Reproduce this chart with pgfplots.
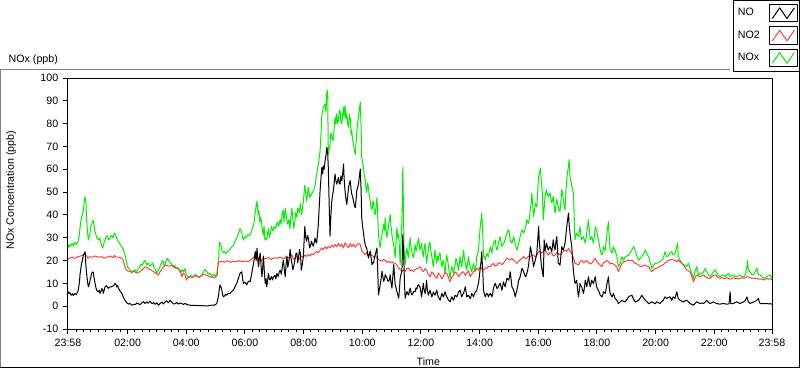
\documentclass[border=0pt]{standalone}
\usepackage{fontspec}
\setmainfont{Liberation Sans}
\usepackage{pgfplots}
\pgfplotsset{compat=1.18}
\definecolor{noxgreen}{RGB}{0,240,0}
\definecolor{notwored}{RGB}{255,64,64}
\definecolor{framegray}{RGB}{128,128,128}
\begin{document}
\begin{tikzpicture}[font=\fontsize{8}{9.6}\selectfont]
\path[use as bounding box] (-51pt,-30pt) rectangle (549pt,246.75pt);
\draw[framegray, line width=0.75pt] (-50.6pt,-28.9pt) -- (-50.6pt,195pt) -- (496.5pt,195pt);
\draw[black, line width=0.75pt] (-51pt,-28.9pt) -- (548.6pt,-28.9pt) -- (548.6pt,192.75pt);
\begin{axis}[
  scale only axis, width=528pt, height=188.25pt,
  xmin=-0.0333, xmax=23.9667, ymin=-10, ymax=100,
  axis line style={black, line width=0.75pt},
  tick align=outside, tick pos=left,
  major tick length=3.75pt, minor tick length=2.25pt,
  every tick/.append style={black, line width=0.75pt},
  xtick={-0.0333,2,4,6,8,10,12,14,16,18,20,22,23.9667},
  xticklabels={23:58,02:00,04:00,06:00,08:00,10:00,12:00,14:00,16:00,18:00,20:00,22:00,23:58},
  minor xtick={0.25,0.5,...,23.75},
  ytick={-10,0,...,100},
  /pgf/number format/assume math mode=true,
  ticklabel style={font=\fontsize{8}{9.6}\selectfont},
  line join=round,
  legend plot pos=right,
  reverse legend,
  legend style={at={(1.0398,1.3125)}, anchor=north east, draw=black, line width=0.75pt, fill=white,
    inner xsep=1.5pt, inner ysep=3pt, row sep=3pt, column sep=4pt,
    font=\fontsize{8}{9.6}\selectfont, cells={anchor=west},
    nodes={text width=17pt, align=left}},
  legend image code/.code={
    \draw[black,line width=0.75pt,fill=white] (0pt,-6.5pt) rectangle (21pt,6.5pt);
    \draw[#1,line width=0.75pt] (2.5pt,-4pt) -- (8pt,4pt) -- (13.5pt,-4pt) -- (19pt,4pt);
  },
]
\addplot[noxgreen, line width=0.75pt] coordinates {
(-0.033,25.5) (0.0,27) (0.05,26) (0.1,27.5) (0.15,26.5) (0.2,28) (0.25,27) (0.3,28) (0.35,31) (0.4,37) (0.45,40) (0.49,42) (0.52,46) (0.55,48) (0.58,45) (0.6,38) (0.63,33) (0.66,29) (0.7,31) (0.75,35) (0.8,37) (0.83,37.5) (0.87,34) (0.9,32) (0.95,30) (1.0,29) (1.05,30) (1.1,27) (1.15,25.5) (1.2,28) (1.25,30) (1.3,31) (1.35,29) (1.4,30) (1.45,31) (1.5,30) (1.55,32) (1.6,31) (1.65,29) (1.7,28) (1.75,27) (1.8,26) (1.85,25) (1.9,23) (1.95,20) (2.0,17) (2.05,16.5) (2.1,15.5) (2.15,14.5) (2.2,15.5) (2.25,16) (2.3,15) (2.35,16) (2.4,17) (2.45,18.5) (2.5,18) (2.55,19.5) (2.6,20) (2.65,18) (2.7,19) (2.75,17.5) (2.8,18) (2.85,19) (2.9,17) (2.95,16) (3.0,14.5) (3.05,16) (3.1,17) (3.15,19) (3.2,20) (3.25,17.5) (3.3,19.5) (3.35,21) (3.4,20) (3.45,19) (3.5,18.5) (3.55,17) (3.6,18) (3.65,16.5) (3.7,17) (3.75,16) (3.8,14.5) (3.85,16) (3.9,15) (3.95,16.5) (4.0,14) (4.05,13) (4.1,12.5) (4.15,13.5) (4.2,13) (4.25,13) (4.3,14) (4.35,13.5) (4.4,13) (4.45,12.5) (4.5,13.5) (4.55,14) (4.6,15.5) (4.65,16) (4.7,15) (4.75,14) (4.8,14.5) (4.85,13.5) (4.9,13) (4.95,14) (5.0,13) (5.05,15) (5.1,20) (5.13,28) (5.17,27.5) (5.2,25) (5.25,23.5) (5.3,24) (5.35,23) (5.4,24) (5.45,24.5) (5.5,25) (5.55,26) (5.6,26.5) (5.65,28) (5.72,30) (5.78,32) (5.83,34) (5.88,33) (5.92,30) (5.95,29) (6.0,30.5) (6.05,30) (6.1,31.5) (6.15,31) (6.2,32) (6.25,34) (6.3,36) (6.35,41) (6.38,44) (6.41,46) (6.45,40) (6.48,42) (6.5,37) (6.54,39) (6.57,36) (6.6,33) (6.62,31) (6.65,35) (6.68,29) (6.71,30) (6.74,29) (6.77,32) (6.8,34) (6.83,30) (6.85,31) (6.88,33) (6.9,35) (6.95,33) (7.0,35) (7.05,34) (7.1,37) (7.15,35) (7.2,38) (7.23,36) (7.27,41) (7.3,42) (7.33,37) (7.37,43) (7.4,40) (7.45,36) (7.5,38) (7.53,34) (7.57,40) (7.6,43) (7.63,38) (7.66,34) (7.7,37) (7.73,41) (7.77,39) (7.8,43) (7.85,41) (7.89,45) (7.93,40) (7.99,46) (8.04,53) (8.1,46) (8.16,52) (8.21,47.7) (8.27,49) (8.33,50.5) (8.39,53) (8.44,57.5) (8.5,62) (8.56,68) (8.59,75) (8.62,84) (8.67,87) (8.73,88.6) (8.76,85) (8.79,93.8) (8.82,94.5) (8.84,66.6) (8.87,69) (8.9,71) (8.93,76) (8.96,74) (9.01,72.6) (9.04,78) (9.07,82.8) (9.1,80) (9.13,84.3) (9.16,80) (9.19,82) (9.22,86) (9.24,85.7) (9.27,81) (9.3,79.9) (9.33,84) (9.36,87.2) (9.38,83) (9.41,87.9) (9.44,82) (9.47,84.3) (9.5,80) (9.53,78.4) (9.56,84) (9.59,82) (9.62,75) (9.64,77) (9.67,73) (9.7,71) (9.73,68) (9.76,66.6) (9.79,72) (9.81,75.5) (9.84,80) (9.87,82.8) (9.9,86) (9.93,89.4) (9.96,78) (9.98,65.2) (10.01,63) (10.04,60.8) (10.07,57) (10.1,54.9) (10.12,52) (10.15,49.8) (10.18,54) (10.21,52) (10.24,48) (10.27,46.1) (10.3,43) (10.33,42.4) (10.36,46) (10.38,45.4) (10.41,41) (10.44,40.2) (10.47,44) (10.5,47.6) (10.53,38) (10.55,31.4) (10.58,28) (10.61,25.6) (10.64,29) (10.67,31.4) (10.7,34) (10.73,35.8) (10.76,33) (10.78,38.8) (10.81,33) (10.84,30) (10.87,33) (10.9,35.8) (10.93,38) (10.95,40.2) (10.98,35) (11.01,31.4) (11.04,29) (11.07,27) (11.1,24) (11.12,21.2) (11.15,28) (11.18,34.4) (11.21,30) (11.24,31.4) (11.27,24) (11.29,18.2) (11.32,28) (11.35,37.4) (11.37,50) (11.38,60.8) (11.4,45) (11.42,27) (11.44,22) (11.46,18.2) (11.49,22) (11.52,25.6) (11.55,23) (11.58,21.2) (11.6,26) (11.63,30) (11.66,26) (11.69,24.1) (11.72,22) (11.75,21.2) (11.78,25) (11.8,27) (11.83,24) (11.86,25.6) (11.89,28) (11.92,30) (11.95,26) (11.97,24.6)
(12.02,27.6) (12.05,24) (12.08,21.7) (12.11,25) (12.14,27.6) (12.17,22) (12.19,18.8) (12.22,22) (12.25,24.6) (12.28,28) (12.31,27.6) (12.34,24) (12.37,21.7) (12.4,19) (12.42,17.3) (12.45,21) (12.48,24.6) (12.51,21) (12.54,18.8) (12.57,22) (12.59,20.2) (12.62,23) (12.65,23.2) (12.68,20) (12.71,17.3) (12.74,19) (12.76,20.2) (12.79,17) (12.82,14.4) (12.85,19) (12.88,22.4) (12.91,20) (12.94,17.3) (12.97,14) (12.99,12.2) (13.02,15) (13.05,17.3) (13.08,16) (13.11,14.4) (13.14,17) (13.16,18) (13.19,21) (13.22,20.2) (13.25,18) (13.28,15.8) (13.31,19) (13.33,21.7) (13.36,19) (13.39,17.3) (13.42,21) (13.45,24.6) (13.48,21) (13.51,18.8) (13.54,17) (13.56,15.8) (13.59,19) (13.62,21.7) (13.65,19) (13.68,17.3) (13.71,16) (13.73,15.1) (13.76,17) (13.79,18.8) (13.82,17) (13.85,15.1) (13.88,18) (13.9,21.7) (13.93,23) (13.96,24.6) (13.99,30) (14.02,34.9) (14.05,38) (14.07,40.8) (14.09,36) (14.11,30.5) (14.13,21.7) (14.16,22) (14.19,20.2) (14.22,22) (14.25,23.2) (14.28,22) (14.3,21.7) (14.33,24) (14.36,26.1) (14.39,25) (14.42,23.2) (14.45,26) (14.47,27.6) (14.5,28) (14.53,29.1) (14.56,26) (14.59,24.6) (14.62,26) (14.64,27.6) (14.67,29) (14.7,30.5) (14.73,28) (14.76,26.1) (14.79,27) (14.81,27.6) (14.84,28) (14.87,29.1) (14.9,31) (14.93,32) (14.96,33) (14.99,33.5) (15.02,31) (15.04,29.1) (15.07,28) (15.1,27.6) (15.13,29) (15.16,30.5) (15.19,29) (15.21,27.6) (15.24,26) (15.27,24.6) (15.3,26) (15.33,27.6) (15.36,29) (15.38,30.5) (15.41,32) (15.44,33.5) (15.47,33) (15.5,32) (15.53,33) (15.56,34.9) (15.59,36) (15.61,37.9) (15.64,37) (15.67,36.4) (15.7,39) (15.73,42.3) (15.76,46) (15.78,49.6) (15.81,44) (15.84,39.3) (15.87,42) (15.9,45.2) (15.93,44) (15.95,43.7) (15.98,50) (16.01,57) (16.04,58.4) (16.07,60.6) (16.1,55) (16.14,49.6) (16.17,37.8) (16.2,43) (16.23,48.1) (16.26,50) (16.28,51.1) (16.31,49) (16.34,48.1) (16.37,49) (16.4,49.6) (16.43,47) (16.46,45.2) (16.49,47) (16.51,48.1) (16.54,44) (16.57,40.8) (16.6,44) (16.63,46.7) (16.66,45) (16.68,43.7) (16.71,42) (16.74,41.5) (16.77,46) (16.8,51.1) (16.83,49) (16.85,46.7) (16.88,44) (16.91,42.3) (16.94,50) (16.97,55.5) (17.0,59) (17.03,61.4) (17.05,64.3) (17.08,57) (17.11,55) (17.14,52.5) (17.17,51) (17.2,49.6) (17.23,36.4) (17.25,29.1) (17.28,31) (17.31,32) (17.34,31) (17.37,30.5) (17.4,33) (17.42,34.9) (17.45,31) (17.48,29.1) (17.51,30) (17.54,30.5) (17.57,29) (17.6,27.6) (17.63,30) (17.65,32) (17.68,35) (17.71,37.9) (17.74,33) (17.77,29.1) (17.8,30) (17.82,30.5) (17.85,29) (17.88,27.6) (17.91,31) (17.94,34.9) (17.97,34) (17.99,33.5) (18.02,31) (18.05,29.1) (18.08,27) (18.11,24.6) (18.14,23) (18.17,22.4) (18.2,24) (18.22,26.1) (18.25,25) (18.28,24.6) (18.31,28) (18.34,32) (18.37,35) (18.39,37.1) (18.42,30) (18.45,24.6) (18.48,24) (18.51,23.2) (18.54,25) (18.56,26.1) (18.59,25) (18.62,24.6) (18.65,23) (18.68,21.7) (18.71,19) (18.73,17.3) (18.76,18) (18.79,18.8) (18.82,20) (18.85,21.7) (18.88,21) (18.91,20.2) (18.94,21) (18.96,21.7) (19.02,22) (19.08,22.4) (19.13,23.5) (19.19,24.6) (19.25,26.1) (19.3,24.6) (19.36,22) (19.42,20.2) (19.47,21) (19.53,21.7) (19.59,23) (19.65,24.6) (19.7,23) (19.76,21.7) (19.82,19) (19.87,16.6) (19.93,18) (19.99,18.8) (20.03,18.8) (20.09,19) (20.15,19.5) (20.2,20) (20.26,21) (20.32,23.9) (20.37,21.7) (20.43,22) (20.49,23.2) (20.55,23.9) (20.6,22.5) (20.66,23.2) (20.72,26.1) (20.75,27.6) (20.77,21.7) (20.83,20.3) (20.89,19) (20.95,18.1) (21.0,18) (21.06,17.3) (21.12,18.8) (21.17,16.6) (21.23,14.4) (21.29,12.2) (21.34,15.1) (21.4,17.3) (21.46,13.7) (21.51,14.4) (21.57,14) (21.63,15.1) (21.69,16.6) (21.74,15.1) (21.8,13.7) (21.86,12.9) (21.92,14) (21.97,15.1) (22.03,15.9) (22.09,14.4) (22.14,13.5) (22.2,12.9) (22.26,13.5) (22.31,13.7) (22.37,13) (22.43,13.7) (22.48,14.4) (22.54,12.9) (22.6,13.5) (22.66,13.7) (22.71,13) (22.77,12.9) (22.83,13.5) (22.88,13.7) (22.94,13) (23.0,12.9) (23.06,14) (23.11,17.3) (23.13,20) (23.16,15.9) (23.22,15.1) (23.27,14) (23.33,13.7) (23.39,15) (23.45,16.6) (23.5,14) (23.56,13.7) (23.62,13) (23.68,12.2) (23.73,12.5) (23.79,12.9) (23.85,13.5) (23.9,13.7) (23.967,12.2)
};
\addlegendentry{NOx}
\addplot[notwored, line width=0.75pt] coordinates {
(-0.033,20.5) (0.0,21) (0.1,21.5) (0.2,21) (0.3,21.7) (0.4,22) (0.5,22.4) (0.55,23.2) (0.6,22) (0.65,21) (0.7,21.7) (0.8,21.5) (0.9,22) (1.0,21.5) (1.1,21.7) (1.2,21) (1.3,21.5) (1.4,22) (1.5,21.3) (1.55,22.2) (1.6,21.5) (1.7,21.5) (1.8,21) (1.85,20) (1.91,17.3) (1.95,16) (2.0,15.5) (2.1,15) (2.2,15.5) (2.3,14.5) (2.4,15) (2.5,16) (2.6,17.3) (2.7,16.5) (2.8,15.8) (2.9,15) (3.0,14) (3.05,13.6) (3.1,15) (3.2,17) (3.3,18) (3.4,17.5) (3.5,18) (3.6,17) (3.7,16.6) (3.8,15.5) (3.85,12.9) (3.9,14.4) (3.95,14) (4.01,11.4) (4.05,12.5) (4.1,13) (4.2,12.5) (4.3,13.5) (4.4,12.8) (4.5,13.2) (4.6,14) (4.7,13.5) (4.8,13) (4.9,12.5) (5.0,12.8) (5.05,13.5) (5.09,19.5) (5.1,19) (5.2,19.8) (5.3,19.3) (5.4,19.8) (5.5,19.2) (5.6,19.7) (5.7,19.4) (5.8,20) (5.9,19.5) (6.0,19.8) (6.1,19.5) (6.2,20.3) (6.3,21.5) (6.4,20.5) (6.5,21.5) (6.55,19.5) (6.6,21) (6.7,20.8) (6.8,21.3) (6.9,20.5) (7.0,21.2) (7.1,21) (7.2,21.5) (7.3,20.8) (7.4,21.6) (7.5,21) (7.6,22.5) (7.65,20.5) (7.7,21.2) (7.8,21.8) (7.85,20.5) (7.9,22)
(7.99,21.5) (8.05,22.5) (8.1,21.8) (8.16,22.6) (8.22,22) (8.28,23) (8.33,22.5) (8.39,23.4) (8.45,24) (8.5,23.5) (8.56,24.5) (8.62,25.5) (8.67,24.8) (8.73,26) (8.79,25.2) (8.84,26.3) (8.9,25.5) (8.96,26.8) (9.01,25.8) (9.07,27) (9.13,26) (9.19,27.5) (9.24,26.2) (9.3,27.2) (9.36,25.5) (9.41,27.8) (9.47,26.5) (9.53,25.6) (9.59,27.5) (9.64,26) (9.7,27.2) (9.76,25.8) (9.81,26.8) (9.87,27.5) (9.93,27) (9.98,24.1) (10.04,23.5) (10.1,22.6) (10.15,23.5) (10.21,21.9) (10.27,22.8) (10.33,22.3) (10.38,21.5) (10.44,22) (10.5,21.2) (10.55,20.4) (10.61,20) (10.67,19.7) (10.73,20.5) (10.78,20) (10.84,19.2) (10.9,19.7) (10.95,19) (11.01,19.5) (11.07,18.9) (11.12,18.9) (11.18,18) (11.24,16.7) (11.29,16) (11.35,15.3) (11.41,15.8) (11.46,15.3) (11.52,16.5) (11.58,16.7) (11.63,15.5) (11.69,16) (11.75,15.2) (11.8,16) (11.86,16.5) (11.92,16.7) (11.97,17.3)
(12.02,16) (12.08,15.1) (12.14,16.5) (12.19,15.8) (12.25,14) (12.31,12.9) (12.37,15) (12.42,14.4) (12.48,13) (12.54,12.2) (12.59,14.5) (12.65,13.6) (12.71,12) (12.76,12.9) (12.82,14.8) (12.88,14.4) (12.94,12.5) (12.99,10.7) (13.05,12.8) (13.11,13.6) (13.16,15) (13.22,14.4) (13.28,13) (13.33,13.6) (13.39,14.8) (13.45,15.1) (13.51,13.5) (13.56,14.4) (13.62,15.5) (13.68,12.9) (13.73,14) (13.79,15.1) (13.85,16) (13.9,16.6) (13.96,15.8) (14.02,17.3) (14.07,16.5) (14.13,15.8) (14.19,16.8) (14.25,16.6) (14.3,17.5) (14.36,17.3) (14.42,18.2) (14.47,18.8) (14.53,17.5) (14.59,18) (14.64,19) (14.7,18.8) (14.76,18.2) (14.81,18.8) (14.87,20) (14.93,21) (14.99,20.5) (15.04,20.2) (15.1,21) (15.16,20.2) (15.21,19.5) (15.27,18.8) (15.33,19.8) (15.38,20.2) (15.44,21) (15.5,21.7) (15.56,20.8) (15.61,21) (15.67,22) (15.73,21.7) (15.78,22.5) (15.84,22.4) (15.9,21.5) (15.95,22.4) (16.01,23.9)
(16.06,24) (16.11,23.2) (16.17,24) (16.23,24.6) (16.28,23.5) (16.34,22.4) (16.4,23.5) (16.46,23.2) (16.51,22) (16.57,22.4) (16.63,23.5) (16.68,23.2) (16.74,22.5) (16.8,23.2) (16.85,24) (16.91,24.6) (16.97,24) (17.03,25.4) (17.08,24) (17.14,23.2) (17.2,21) (17.25,18.8) (17.31,18.5) (17.37,18) (17.42,19.5) (17.48,20.2) (17.54,19) (17.6,19.5) (17.65,20) (17.71,19.2) (17.77,18.5) (17.82,18.8) (17.88,20) (17.94,21) (17.99,19.5) (18.05,18.8) (18.11,18) (18.17,17.3) (18.22,19) (18.28,19.5) (18.34,20) (18.39,19.5) (18.45,18.5) (18.51,18.8) (18.56,18.5) (18.62,18) (18.68,17) (18.73,15.1) (18.79,17) (18.85,18.8) (18.91,19.5) (18.96,19.5) (19.02,20) (19.08,20.2) (19.13,20) (19.19,20.2) (19.25,19.5) (19.3,18.8) (19.36,18.5) (19.42,18) (19.47,17.5) (19.53,17.3) (19.59,18) (19.65,18) (19.7,17.5) (19.76,17.3) (19.82,16) (19.87,15.1) (19.93,16) (19.99,16.6)
(20.03,16.6) (20.09,17.2) (20.15,17.5) (20.2,17.8) (20.26,18.1) (20.32,19) (20.37,19.5) (20.43,20) (20.49,20.3) (20.55,20.5) (20.6,20.3) (20.66,20) (20.72,19.5) (20.77,20.3) (20.83,19.5) (20.89,18.8) (20.95,18.1) (21.0,17) (21.06,15.9) (21.12,15.5) (21.17,15.1) (21.23,13) (21.29,10.7) (21.34,12.5) (21.4,13.7) (21.46,13.3) (21.51,12.9) (21.57,13.2) (21.63,13.7) (21.69,13) (21.74,12.6) (21.8,12.2) (21.86,12.2) (21.92,12.9) (21.97,13.5) (22.03,13.7) (22.09,13) (22.14,12.5) (22.2,12.2) (22.26,12.5) (22.31,12.2) (22.37,12.2) (22.43,12.5) (22.48,12.2) (22.54,11.8) (22.6,12.2) (22.66,12.5) (22.71,12.2) (22.77,12.2) (22.83,12) (22.88,12.2) (22.94,12.5) (23.0,12.2) (23.06,12.5) (23.11,12.9) (23.16,12.9) (23.22,12.5) (23.27,12.2) (23.33,12.4) (23.39,12) (23.45,12.2) (23.5,11.8) (23.56,12) (23.62,11.8) (23.68,11.5) (23.73,11.8) (23.79,12.2) (23.85,11.8) (23.9,12) (23.967,11.5)
};
\addlegendentry{NO2}
\addplot[black, line width=0.75pt] coordinates {
(-0.033,6.5) (0.0,5.6) (0.03,6) (0.06,5) (0.09,4.8) (0.12,5.5) (0.15,4.6) (0.2,5.6) (0.25,5) (0.3,6.3) (0.33,8) (0.36,11) (0.38,14.4) (0.41,17) (0.43,18.8) (0.46,20) (0.49,22.4) (0.52,23) (0.55,23.9) (0.57,19) (0.6,14.4) (0.63,11) (0.66,8.5) (0.69,9.5) (0.72,11.4) (0.75,13) (0.77,14.4) (0.8,15) (0.83,14.7) (0.86,12) (0.89,10) (0.92,8) (0.95,7) (0.98,6.5) (1.0,6.3) (1.03,7) (1.06,5.6) (1.09,6.5) (1.12,7.8) (1.15,7) (1.17,5.6) (1.2,7) (1.23,8.5) (1.28,9) (1.34,7.8) (1.4,8.5) (1.46,8.5) (1.52,9) (1.57,10) (1.6,9.5) (1.63,8.5) (1.66,9) (1.69,7.8) (1.75,6.5) (1.8,5.6) (1.85,4) (1.91,2.6) (1.97,1.5) (2.03,0.9) (2.08,1.2) (2.14,0.4) (2.2,0.8) (2.26,0.7) (2.31,1.3) (2.37,1.1) (2.42,0.6) (2.48,1.4) (2.54,2) (2.59,1.2) (2.65,1.9) (2.7,1.3) (2.76,2.2) (2.83,1.1) (2.88,1.6) (2.94,0.8) (3.0,1.5) (3.05,0.4) (3.11,1.2) (3.17,1.8) (3.22,1.0) (3.28,1.9) (3.33,2.4) (3.39,1.5) (3.45,2.6) (3.5,1.8) (3.56,1.0) (3.62,1.1) (3.68,1.6) (3.73,0.9) (3.79,1.4) (3.85,1.1) (3.9,0.8) (3.96,1.2) (4.02,0.7) (4.1,0.5) (4.2,0.3) (4.3,0.4) (4.4,0.2) (4.5,0.3) (4.6,0.2) (4.7,0.1) (4.8,0.3) (4.9,0.5) (4.95,0.4) (5.0,0.8) (5.04,1.2) (5.09,4.1) (5.13,8) (5.15,9.3) (5.18,8.5) (5.21,7.1) (5.24,5) (5.26,4.1) (5.3,4.5) (5.34,5.2) (5.38,4.8) (5.43,5.6) (5.49,5.6) (5.55,6.5) (5.61,7.1) (5.66,8.5) (5.72,10) (5.77,12) (5.83,14.4) (5.89,15.1) (5.92,12) (5.95,10) (6.0,10.5) (6.06,9.3) (6.12,11) (6.18,10.8) (6.23,14.4) (6.29,18.8) (6.32,21) (6.35,23.9) (6.38,20) (6.41,25.4) (6.44,20) (6.46,17.3) (6.49,21) (6.52,23.2) (6.55,17) (6.58,12.9) (6.61,18) (6.63,22) (6.66,15) (6.69,10) (6.72,12) (6.74,8.5) (6.77,11) (6.8,14.4) (6.83,12) (6.86,11.5) (6.9,13) (6.94,11.5) (6.97,12.9) (7.02,13.5) (7.05,12) (7.09,14.4) (7.13,13) (7.17,15) (7.2,15.8) (7.24,14) (7.28,18) (7.31,20.2) (7.34,16) (7.37,12.9) (7.4,18) (7.43,22) (7.46,17) (7.5,20) (7.54,24.9) (7.57,21) (7.6,18.8) (7.63,16) (7.66,17.3) (7.7,20) (7.74,23.2) (7.77,23.2) (7.8,19) (7.83,22) (7.86,24.9) (7.89,23) (7.92,15.8) (7.95,18)
(7.99,21.9) (8.04,35) (8.07,30) (8.1,28.5) (8.13,31) (8.16,29.9) (8.19,27) (8.21,25.5) (8.24,27) (8.27,28.5) (8.3,27) (8.33,26.3) (8.36,28) (8.39,29.9) (8.42,28) (8.44,27.7) (8.47,31) (8.5,35.8) (8.53,43) (8.56,50.5) (8.59,56) (8.62,60.8) (8.65,58) (8.67,61.5) (8.7,60) (8.73,63.7) (8.76,66) (8.79,69.6) (8.82,67) (8.84,60.8) (8.87,45) (8.9,30.7) (8.93,40) (8.96,46.1) (8.98,48) (9.01,50.5) (9.04,54) (9.07,57.9) (9.1,55) (9.13,53.5) (9.16,55) (9.19,56.4) (9.21,54) (9.24,53.5) (9.27,57) (9.3,55) (9.33,58) (9.36,62.3) (9.38,56) (9.41,50.5) (9.44,47) (9.47,44.6) (9.5,48) (9.53,52) (9.56,54) (9.59,55) (9.61,52) (9.64,49.1) (9.67,48) (9.7,46.1) (9.73,44) (9.76,43.2) (9.79,47) (9.81,50.5) (9.84,52) (9.87,53.5) (9.9,57) (9.93,60.1) (9.96,50.5) (9.98,38.7) (10.01,35) (10.04,32.1) (10.07,29) (10.1,27) (10.12,26) (10.15,25.5) (10.18,23) (10.21,21.1) (10.24,23) (10.27,24.1) (10.3,21) (10.33,18.2) (10.36,19) (10.38,18.9) (10.41,21) (10.44,22.6) (10.47,24) (10.5,25.5) (10.53,14) (10.55,4.9) (10.58,7) (10.61,9.4) (10.64,12) (10.67,15.3) (10.7,13) (10.73,10.9) (10.76,12) (10.78,13.8) (10.81,13) (10.84,12.3) (10.87,11) (10.9,10.9) (10.93,12) (10.95,13.8) (10.98,10) (11.01,7.9) (11.04,13) (11.07,18.2) (11.1,13) (11.12,9.4) (11.15,8) (11.18,6.4) (11.21,5) (11.24,3.5) (11.27,8) (11.29,12.3) (11.32,14) (11.35,15.3) (11.37,25) (11.38,31.4) (11.4,25) (11.42,18.2) (11.44,9) (11.46,3.5) (11.49,5) (11.52,6.4) (11.55,5.5) (11.58,4.9) (11.6,6.5) (11.63,7.9) (11.66,6) (11.69,4.9) (11.72,5.5) (11.75,6.4) (11.8,6.4) (11.83,8) (11.86,7.5) (11.89,9) (11.92,9.4) (11.95,8.5) (11.97,8.5)
(12.02,4.1) (12.05,7) (12.08,10) (12.11,7) (12.14,5.6) (12.17,8) (12.19,11.4) (12.22,7) (12.25,4.8) (12.28,6) (12.31,7) (12.34,5.5) (12.37,4.1) (12.4,5) (12.42,6.3) (12.45,5.5) (12.48,4.8) (12.51,6) (12.54,7) (12.57,5) (12.59,4.1) (12.62,3.5) (12.65,2.6) (12.68,4) (12.71,5.6) (12.74,4.8) (12.76,4.1) (12.79,5) (12.82,6.3) (12.85,5) (12.88,4.1) (12.91,3.3) (12.94,2.6) (12.97,2.2) (12.99,1.9) (13.02,3) (13.05,4.1) (13.08,3.3) (13.11,2.6) (13.14,3.8) (13.16,4.8) (13.19,4.5) (13.22,4.1) (13.25,5) (13.28,6.3) (13.31,6.5) (13.33,7) (13.36,5.5) (13.39,4.1) (13.42,5) (13.45,5.6) (13.48,7) (13.51,8.5) (13.54,6) (13.56,4.1) (13.59,4.5) (13.62,4.8) (13.65,4) (13.68,3.3) (13.71,4.5) (13.73,5.6) (13.76,5) (13.79,4.1) (13.82,5.2) (13.85,6.3) (13.88,6.5) (13.9,7) (13.93,8.5) (13.96,10) (13.99,13) (14.02,16.6) (14.05,20) (14.07,23.9) (14.09,19) (14.11,14.4) (14.13,7) (14.16,5.5) (14.19,4.1) (14.22,5) (14.25,5.6) (14.28,5) (14.3,4.1) (14.33,5) (14.36,5.6) (14.39,5) (14.42,4.1) (14.45,6) (14.47,7.8) (14.5,9) (14.53,10) (14.56,9) (14.59,7.8) (14.62,8) (14.64,8.5) (14.67,9.5) (14.7,10) (14.73,8.5) (14.76,7) (14.79,9) (14.81,10.7) (14.84,9.5) (14.87,8.5) (14.9,10.5) (14.93,12.2) (14.96,11.8) (14.99,11.4) (15.02,13) (15.04,15.1) (15.07,12) (15.1,8.5) (15.13,7.8) (15.16,7) (15.19,5.5) (15.21,4.1) (15.24,5.5) (15.27,7) (15.3,9) (15.33,11.4) (15.36,12) (15.38,12.9) (15.41,14.5) (15.44,16.6) (15.47,16) (15.5,15.1) (15.53,14) (15.56,12.9) (15.59,13.5) (15.61,14.4) (15.64,16) (15.67,18) (15.7,22) (15.73,26.1) (15.76,24) (15.78,22.4) (15.81,20) (15.84,17.3) (15.87,19) (15.9,20.2) (15.93,22) (15.95,23.2) (15.98,29) (16.01,34.9) (16.03,29)
(16.06,24.6) (16.09,20) (16.11,17.3) (16.14,15) (16.17,12.9) (16.2,29.1) (16.23,24.6) (16.26,26) (16.28,27.6) (16.31,26) (16.34,24.6) (16.37,25.5) (16.4,26.1) (16.43,25) (16.46,23.9) (16.49,27) (16.51,29.1) (16.54,26) (16.57,24.6) (16.6,28) (16.63,30.5) (16.66,24) (16.68,18.8) (16.71,18.5) (16.74,18) (16.77,22) (16.8,26.1) (16.83,25) (16.85,24.6) (16.88,26) (16.91,27.6) (16.94,31) (16.97,34.9) (17.0,38) (17.03,40.8) (17.05,36) (17.08,32) (17.11,29) (17.14,26.1) (17.17,20) (17.2,15.1) (17.23,12) (17.25,10) (17.28,10.5) (17.31,11.4) (17.34,7) (17.37,4.1) (17.4,7) (17.42,10) (17.45,9) (17.48,8.5) (17.51,7) (17.54,5.6) (17.57,8) (17.6,11.4) (17.63,10) (17.65,8.5) (17.68,10.5) (17.71,12.9) (17.74,10.5) (17.77,8.5) (17.8,10) (17.82,11.4) (17.85,10.5) (17.88,10) (17.91,11.5) (17.94,12.9) (17.97,10) (17.99,8.5) (18.02,7.5) (18.05,7) (18.08,6) (18.11,4.8) (18.14,4.5) (18.17,4.1) (18.2,5) (18.22,6.3) (18.25,6) (18.28,5.6) (18.31,7.5) (18.34,10) (18.37,11.5) (18.39,12.9) (18.42,8) (18.45,5.6) (18.48,4.8) (18.51,4.1) (18.54,4.8) (18.56,5.6) (18.59,4.5) (18.62,3.3) (18.65,3) (18.68,2.6) (18.71,1.8) (18.73,1.1) (18.79,1.9) (18.85,2.6) (18.91,2) (18.96,1.9) (19.02,3) (19.08,4.1) (19.13,4.5) (19.19,4.8) (19.25,3) (19.3,1.9) (19.36,2.2) (19.42,2.6) (19.47,3.5) (19.53,4.8) (19.59,3.5) (19.65,2.6) (19.7,2) (19.76,1.1) (19.82,1.5) (19.87,1.9) (19.93,1.4) (19.99,1.1)
(20.03,1.9) (20.09,1.5) (20.15,1.2) (20.2,2) (20.26,2.6) (20.32,4.1) (20.37,3.4) (20.43,3.8) (20.49,4.1) (20.55,2.6) (20.6,4.1) (20.66,3.4) (20.72,6.3) (20.77,3.4) (20.83,2.6) (20.89,2.2) (20.95,1.9) (21.0,2.3) (21.06,2.6) (21.12,1.9) (21.17,1.2) (21.23,0.8) (21.29,0.4) (21.34,1.2) (21.4,1.9) (21.46,1.5) (21.51,1.2) (21.57,1.4) (21.63,1.2) (21.69,1.8) (21.74,2.6) (21.8,1.6) (21.86,1.2) (21.92,1.5) (21.97,1.9) (22.03,1.4) (22.09,1.2) (22.14,1) (22.2,0.9) (22.26,1.1) (22.31,1.2) (22.37,1) (22.43,0.9) (22.5,1) (22.54,6.3) (22.56,1.2) (22.6,1.1) (22.66,1.2) (22.71,1.6) (22.77,1.9) (22.83,1.4) (22.88,1.2) (22.94,1.6) (23.0,1.9) (23.06,2.5) (23.11,4.1) (23.16,1.9) (23.22,1.2) (23.27,1.5) (23.33,1.8) (23.39,2.2) (23.45,2.6) (23.5,3.4) (23.53,2) (23.56,1.2) (23.62,1.1) (23.68,1.2) (23.73,1.1) (23.79,1.2) (23.85,1.0) (23.9,1.1) (23.967,0.9)
};
\addlegendentry{NO}
\end{axis}
\node[anchor=base west] at (-48pt,200pt) {NOx (ppb)};
\node[rotate=90] at (-42.75pt,104pt) {NOx Concentration (ppb)};
\node[anchor=base west] at (258pt,-27.4pt) {Time};
\end{tikzpicture}
\end{document}
